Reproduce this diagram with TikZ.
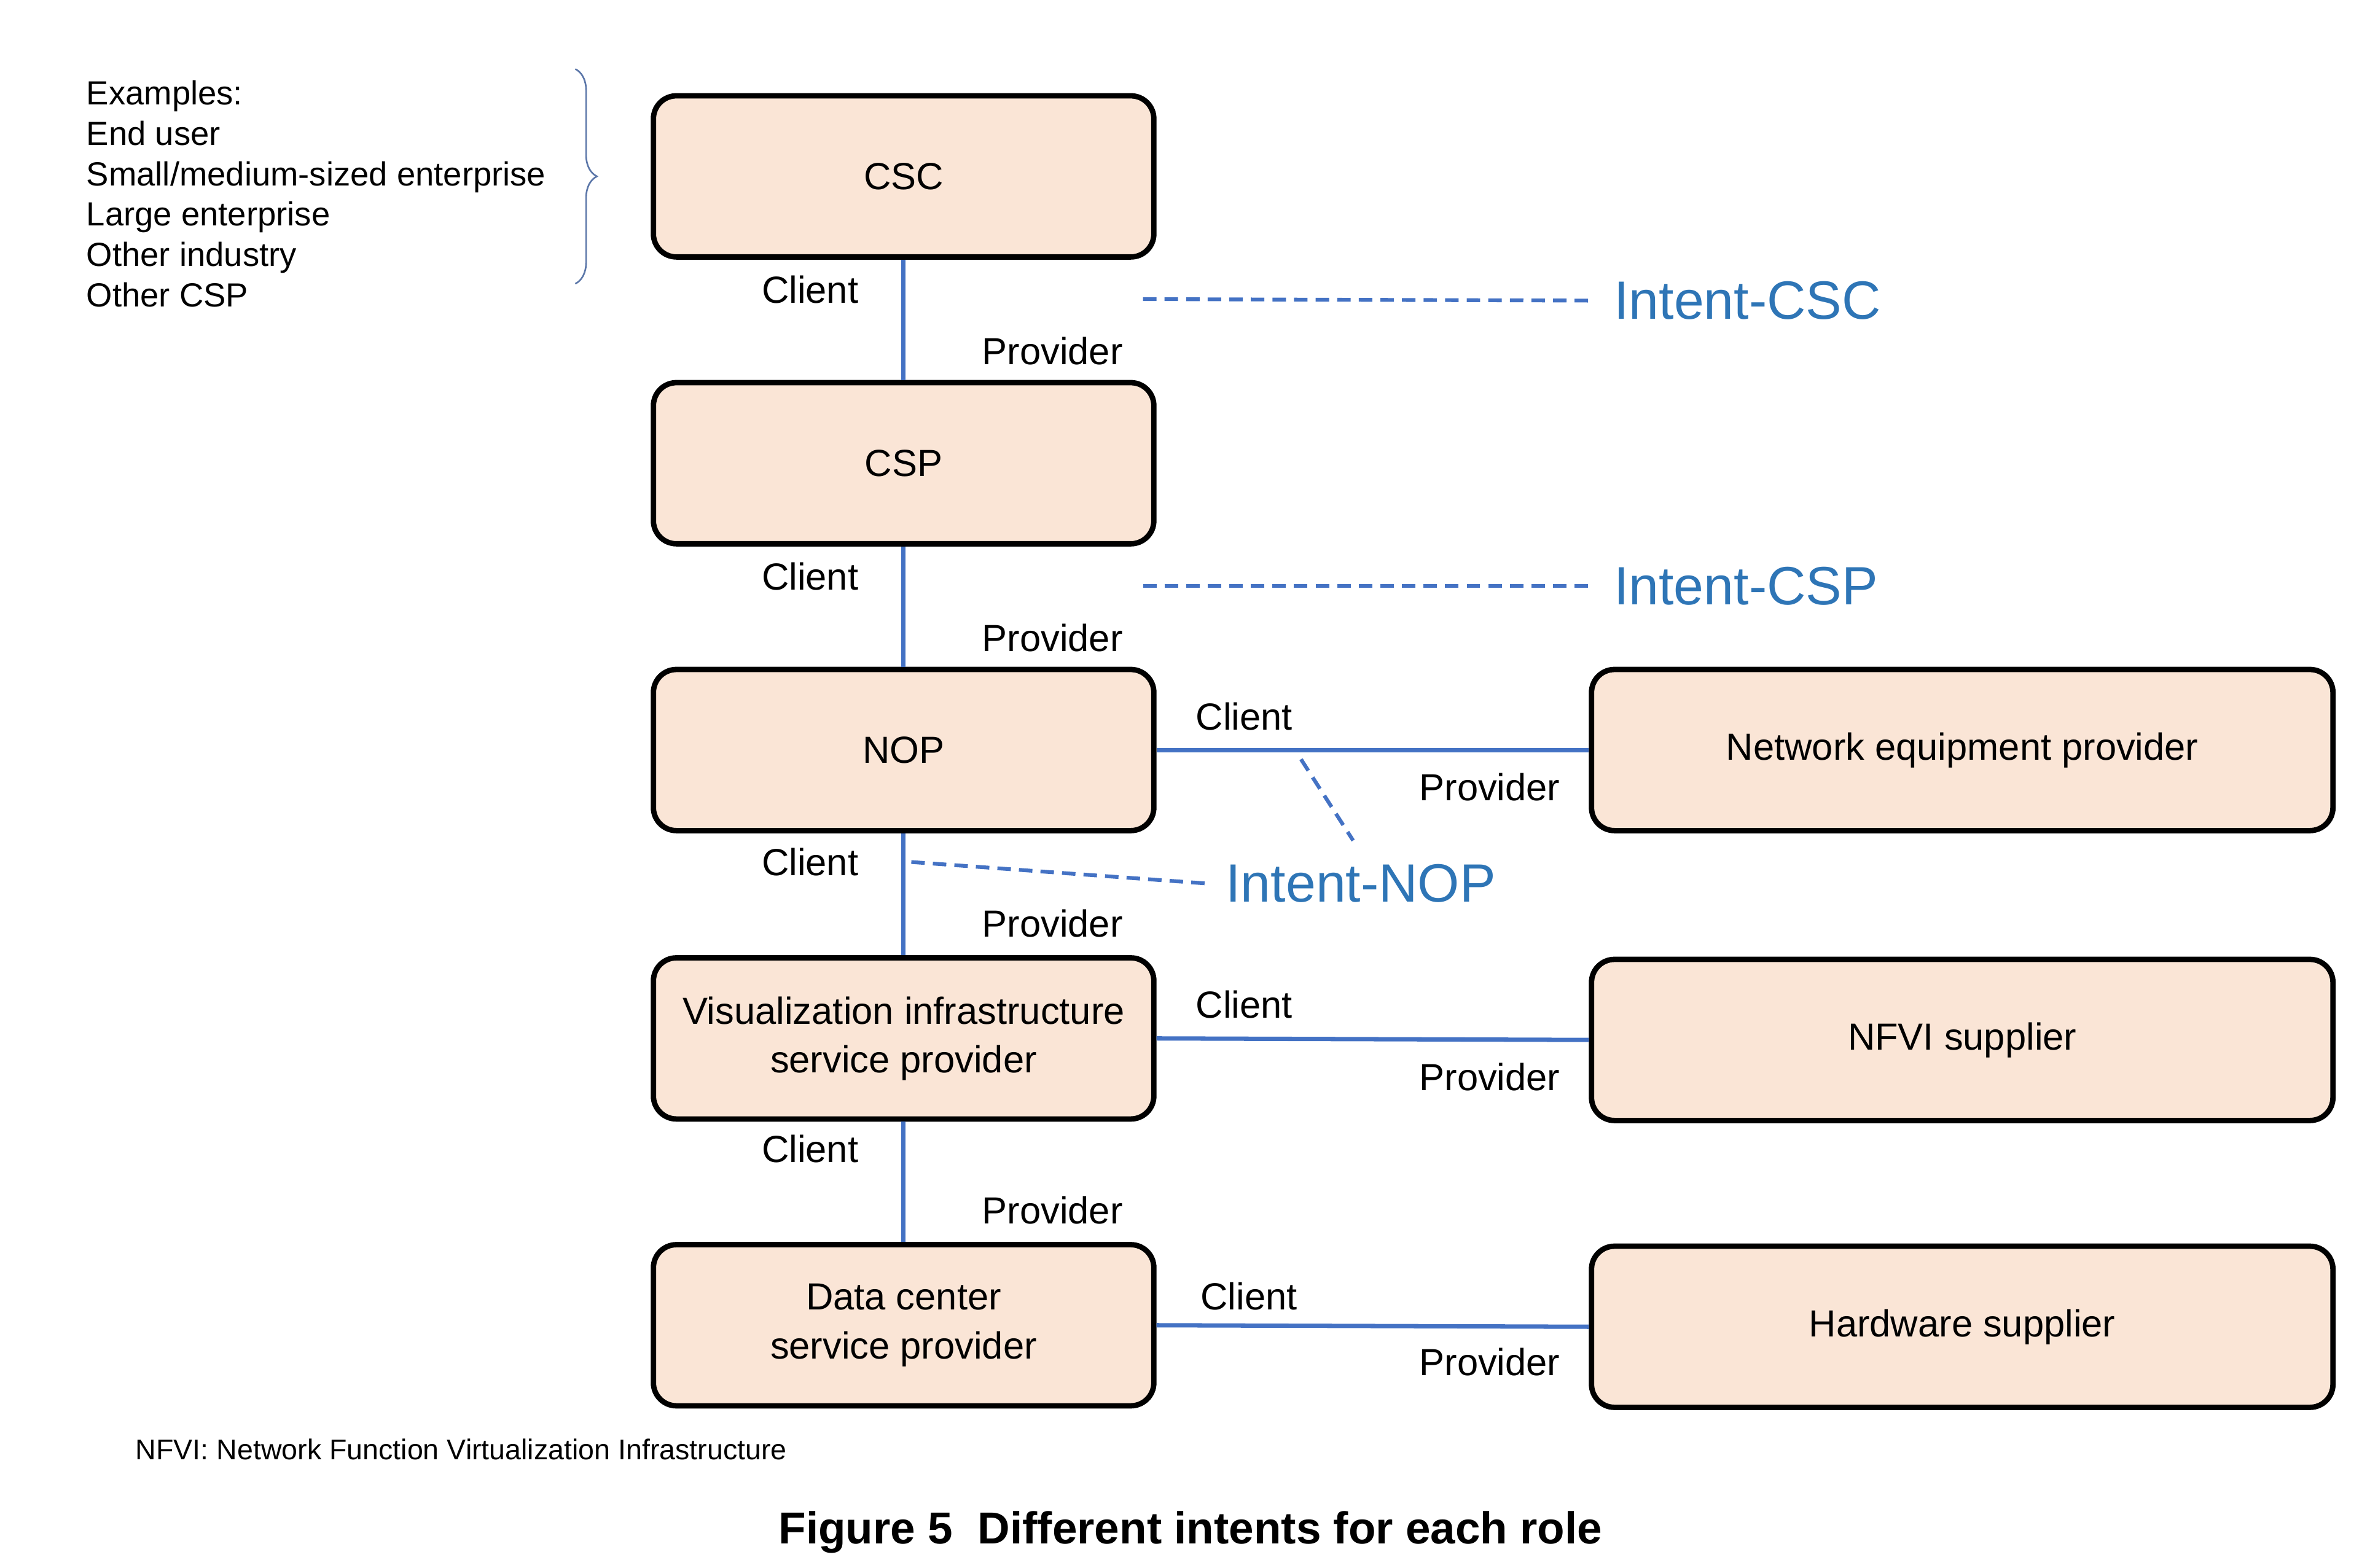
\documentclass[tikz,border=0pt]{standalone}
\usepackage{fontspec}
\setmainfont{Liberation Sans}
\usetikzlibrary{decorations.pathreplacing}
\definecolor{boxfill}{HTML}{FAE5D6}
\definecolor{linkblue}{HTML}{4472C4}
\definecolor{intentblue}{HTML}{2E75B6}
\tikzset{
  role/.style={draw=black,line width=1pt,rounded corners=0.15cm,fill=boxfill,
    minimum width=3.26cm,minimum height=1.05cm,align=center,
    font=\fontsize{7}{9}\selectfont},
  wide/.style={role,minimum width=4.83cm},
  link/.style={linkblue,line width=0.8pt},
  intentline/.style={linkblue,dash pattern=on 2.5pt off 1.5pt,line width=0.7pt},
  lbl/.style={font=\fontsize{7}{8}\selectfont},
  intent/.style={text=intentblue,font=\fontsize{10}{12}\selectfont}
}
\begin{document}
\begin{tikzpicture}[x=0.01cm,y=-0.01cm]
\useasboundingbox (0,0) rectangle (1550,1022);
% role boxes
\node[role] (csc) at (589,115) {CSC};
\node[role] (csp) at (589,302) {CSP};
\node[role] (nop) at (589,489) {NOP};
\node[role] (vis) at (589,677) {Visualization infrastructure\\ service provider};
\node[role] (dc) at (589,864) {Data center\\ service provider};
\node[wide] (nep) at (1279,489) {Network equipment provider};
\node[wide] (nfvi) at (1279,678) {NFVI supplier};
\node[wide] (hw) at (1279,865) {Hardware supplier};
% links
\draw[link] (csc) -- (csp);
\draw[link] (csp) -- (nop);
\draw[link] (nop) -- (vis);
\draw[link] (vis) -- (dc);
\draw[link] (nop.east) -- (nep.west);
\draw[link] (vis.east) -- (nfvi.west);
\draw[link] (dc.east) -- (hw.west);
% client / provider labels
\foreach \y in {189,376,562,749}{
  \node[lbl] (cl\y) at (528,\y) {Client};
  \node[lbl] (pr\y) at (686,\y+40) {Provider};
}
\node[lbl] (clnep) at (811,467) {Client};
\node[lbl] (prnep) at (971,513) {Provider};
\node[lbl] (clnfvi) at (811,655) {Client};
\node[lbl] (prnfvi) at (971,702) {Provider};
\node[lbl] (clhw) at (814,845) {Client};
\node[lbl] (prhw) at (971,888) {Provider};
% intents
\node[intent] (icsc) at (1139,196) {Intent-CSC};
\node[intent] (icsp) at (1138,382) {Intent-CSP};
\node[intent] (inop) at (887,576) {Intent-NOP};
\coordinate (a1) at (745,195);
\coordinate (a2) at (745,382);
\coordinate (a3) at (594,562);
\coordinate (a4) at (848,495);
\draw[intentline] (a1) -- (icsc.west);
\draw[intentline] (a2) -- (icsp.west);
\draw[intentline] (a3) -- (inop.west);
\draw[intentline] (a4) -- (882,548);
% examples
\node[lbl,anchor=north west,align=left,font=\fontsize{6.2}{7.5}\selectfont] (ex) at (44,40)
  {Examples:\\End user\\Small/medium-sized enterprise\\Large enterprise\\Other industry\\Other CSP};
\draw[linkblue!60!gray,line width=0.3pt,decorate,decoration={brace,amplitude=4pt,aspect=0.5}] (375,45) -- (375,185);
% footnote and caption
\node[anchor=west,font=\fontsize{5.3}{6}\selectfont] (fn) at (76,945) {NFVI: Network Function Virtualization Infrastructure};
\node[font=\bfseries\fontsize{8.3}{10}\selectfont] (cap) at (776,999) {Figure 5\ \ Different intents for each role};
\end{tikzpicture}
\end{document}
